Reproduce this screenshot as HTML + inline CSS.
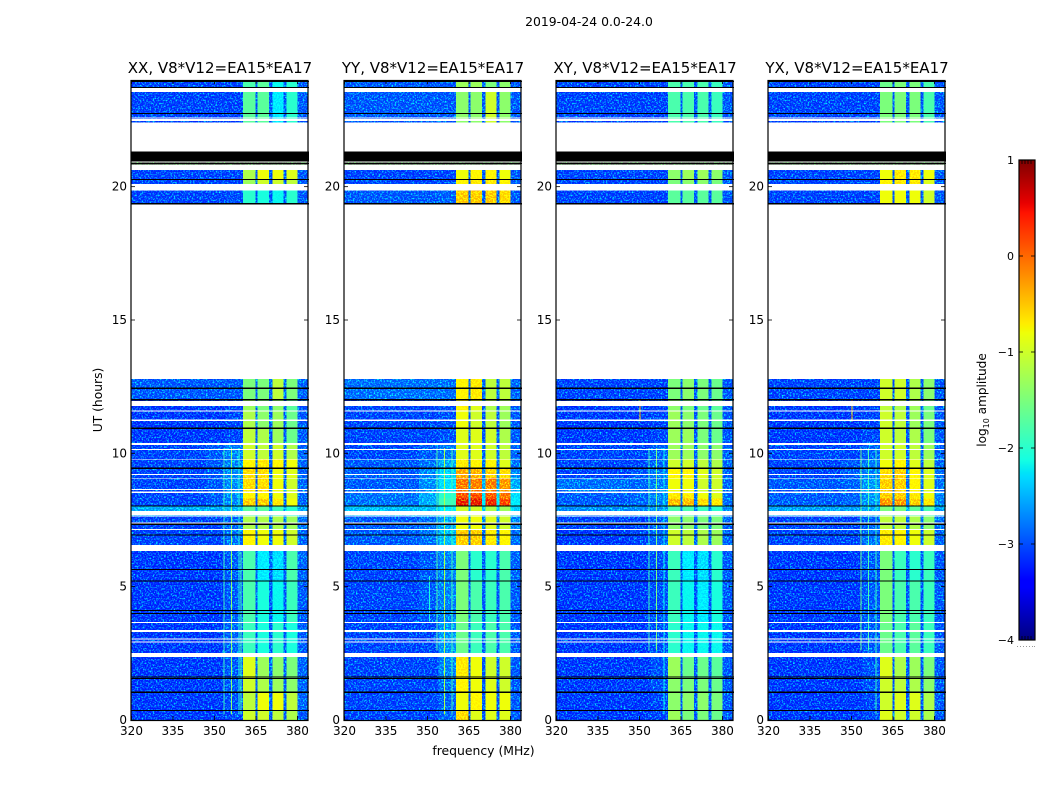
<!DOCTYPE html>
<html>
<head>
<meta charset="utf-8">
<title>2019-04-24 0.0-24.0</title>
<style>
html,body{margin:0;padding:0;background:#fff;}
svg{display:block;}
text{font-family:"DejaVu Sans","Liberation Sans",sans-serif;fill:#000;}
</style>
</head>
<body>
<svg id="fig" xmlns="http://www.w3.org/2000/svg" width="1050" height="800" viewBox="0 0 1050 800">
  <defs>
    <filter id="grain" x="0" y="0" width="100%" height="100%" color-interpolation-filters="sRGB">
      <feTurbulence type="fractalNoise" baseFrequency="0.62" numOctaves="2" seed="7" result="n"/>
      <feColorMatrix in="n" type="matrix" values="0 0 0 0 0  2.6 0 0 0 -1.22  0 0 0 0 0  0 0 0 0 1" result="g"/>
      <feComposite in="SourceGraphic" in2="g" operator="arithmetic" k1="0" k2="1" k3="1" k4="0"/>
    </filter>
  </defs>
  <text x="589" y="26" font-size="12.4" text-anchor="middle">2019-04-24 0.0-24.0</text>
  <text x="0" y="0" font-size="12.3" text-anchor="middle" transform="translate(102 400) rotate(-90)">UT (hours)</text>
  <text x="483.5" y="755" font-size="12.4" text-anchor="middle">frequency (MHz)</text>
  <text x="0" y="0" font-size="12.1" text-anchor="middle" transform="translate(986 400) rotate(-90)">log<tspan font-size="8" dy="3">10</tspan><tspan dy="-3"> amplitude</tspan></text>
  <g id="panels"></g>
  <g id="cbar"></g>
</svg>
<script>
const panelTitles = ['XX, V8*V12=EA15*EA17','YY, V8*V12=EA15*EA17','XY, V8*V12=EA15*EA17','YX, V8*V12=EA15*EA17'];
const xTickLabels = [320,335,350,365,380];
const yTickLabels = [0,5,10,15,20];
const colorbarTicks = [1,0,-1,-2,-3,-4];
const freqEdges = [320,347,354,360.4,364.8,365.6,369.8,370.9,374.9,376,380,384];
const bandColumns = [0,1,2,3,7,4,7,5,7,6,7];
const hourRows = [[0,0.36],[0.36,1.04],[1.04,1.58],[1.58,2.36],[2.36,3.66],[3.66,5.22],[5.22,6.34],[6.34,7.13],[7.13,7.63],[7.63,8.03],[8.03,8.3],[8.3,8.54],[8.54,9.05],[9.05,9.44],[9.44,9.78],[9.78,10.31],[10.31,10.94],[10.94,11.6],[11.6,12.01],[12.01,12.79],[19.3,20.0],[20.0,20.27],[20.27,20.7],[22.3,23.6],[23.6,24]];
const valuesXX = [
[-3.25,-3.25,-3.2,-1.0,-1.0,-1.1,-1.2,-3.1],
[-3.25,-3.25,-3.15,-1.1,-0.8,-0.8,-1.1,-3.05],
[-3.25,-3.25,-3.1,-1.0,-1.2,-1.3,-1.4,-3.05],
[-3.25,-3.25,-3.1,-0.9,-1.3,-1.4,-1.5,-3.05],
[-3.25,-3.25,-3.05,-1.9,-2.1,-2.0,-2.1,-3.1],
[-3.25,-3.25,-3.1,-1.8,-2.1,-2.2,-1.9,-3.1],
[-3.25,-3.25,-3.1,-1.8,-2.3,-2.4,-1.8,-3.05],
[-3.2,-3.2,-3.0,-0.7,-0.8,-0.8,-1.0,-3.05],
[-3.2,-3.2,-3.05,-1.2,-1.2,-1.2,-1.3,-3.0],
[-2.7,-2.7,-2.6,-1.7,-1.7,-1.9,-2.0,-2.75],
[-3.2,-3.1,-2.9,-0.4,-0.4,-0.6,-0.8,-3.05],
[-3.2,-3.1,-2.85,-0.7,-0.7,-0.8,-0.9,-3.05],
[-3.2,-3.1,-2.85,-0.5,-0.5,-0.8,-1.0,-3.05],
[-3.2,-3.1,-2.85,-0.5,-0.5,-0.8,-0.9,-3.05],
[-3.2,-3.1,-2.9,-0.7,-0.6,-0.7,-0.8,-3.05],
[-3.2,-3.1,-2.9,-1.0,-1.1,-1.0,-1.2,-3.05],
[-3.25,-3.25,-3.2,-1.1,-1.2,-1.3,-1.6,-3.1],
[-3.25,-3.25,-3.2,-1.2,-1.4,-1.3,-1.6,-3.1],
[-3.25,-3.25,-3.2,-1.3,-1.5,-1.4,-1.7,-3.1],
[-3.1,-3.1,-3.1,-1.5,-1.5,-1.1,-1.5,-3.05],
[-3.2,-3.2,-3.15,-2.0,-2.1,-2.2,-2.0,-3.1],
[-3.2,-3.2,-3.2,-1.3,-1.0,-1.0,-1.1,-3.1],
[-3.2,-3.2,-3.2,-1.2,-0.8,-0.8,-0.9,-3.1],
[-3.2,-3.2,-3.2,-1.7,-1.7,-2.3,-2.0,-3.1],
[-3.2,-3.2,-3.2,-1.8,-1.7,-2.2,-2.0,-3.1]];
const valuesYY = [
[-3.2,-3.2,-3.05,-0.5,-0.9,-0.9,-0.9,-3.1],
[-3.2,-3.2,-3.05,-0.8,-0.7,-0.8,-0.8,-3.1],
[-3.2,-3.2,-3.0,-0.7,-0.8,-0.9,-1.0,-3.1],
[-3.2,-3.2,-2.9,-0.6,-0.8,-1.0,-1.0,-3.1],
[-3.2,-3.2,-2.8,-1.6,-1.9,-1.8,-1.8,-3.1],
[-3.2,-3.1,-2.9,-1.5,-1.8,-1.9,-1.8,-3.1],
[-3.2,-3.1,-2.9,-1.5,-2.0,-2.0,-1.8,-3.05],
[-3.1,-3.0,-2.6,-0.4,-0.4,-0.6,-0.7,-3.0],
[-3.1,-3.0,-2.7,-0.8,-0.8,-0.9,-1.0,-2.9],
[-2.6,-2.6,-2.3,-1.0,-1.0,-1.2,-1.3,-2.5],
[-3.0,-2.7,-1.9,0.55,0.55,0.5,0.35,-2.3],
[-3.0,-2.7,-2.0,0.3,0.3,0.25,0.1,-2.4],
[-3.1,-2.85,-2.4,0.1,0.05,0.05,-0.1,-2.7],
[-3.1,-2.9,-2.5,-0.2,-0.25,-0.4,-0.5,-2.85],
[-3.1,-3.0,-2.7,-0.6,-0.7,-0.7,-0.9,-3.0],
[-3.2,-3.1,-2.95,-0.9,-0.9,-1.0,-1.1,-3.05],
[-3.2,-3.2,-3.15,-0.9,-0.9,-1.0,-1.2,-3.1],
[-3.2,-3.2,-3.15,-0.8,-1.0,-1.1,-1.3,-3.1],
[-3.2,-3.2,-3.15,-0.7,-0.9,-1.2,-1.3,-3.1],
[-3.0,-3.0,-3.0,-0.7,-0.6,-1.1,-1.1,-3.05],
[-3.1,-3.1,-3.05,-0.4,-0.4,-0.4,-0.5,-3.1],
[-3.2,-3.2,-3.2,-0.7,-0.6,-0.6,-0.7,-3.1],
[-3.2,-3.2,-3.2,-0.8,-0.7,-0.7,-0.8,-3.1],
[-3.1,-3.1,-3.1,-1.4,-1.4,-1.0,-1.4,-3.1],
[-3.1,-3.1,-3.1,-1.3,-1.3,-1.5,-1.4,-3.1]];
const valuesXY = [
[-3.25,-3.25,-3.2,-1.3,-1.5,-1.5,-1.6,-3.1],
[-3.25,-3.25,-3.2,-1.4,-1.4,-1.4,-1.5,-3.1],
[-3.25,-3.25,-3.15,-1.4,-1.5,-1.5,-1.6,-3.1],
[-3.25,-3.25,-3.15,-1.3,-1.6,-1.6,-1.7,-3.1],
[-3.25,-3.25,-3.15,-2.0,-2.2,-2.2,-2.2,-3.1],
[-3.25,-3.25,-3.15,-1.9,-2.2,-2.3,-2.1,-3.1],
[-3.25,-3.25,-3.15,-1.9,-2.3,-2.4,-2.0,-3.1],
[-3.25,-3.2,-3.05,-1.0,-1.1,-1.2,-1.3,-3.05],
[-3.2,-3.2,-3.05,-1.4,-1.4,-1.5,-1.5,-3.05],
[-2.85,-2.85,-2.8,-1.8,-1.8,-1.9,-2.0,-2.85],
[-3.1,-3.05,-2.9,-0.3,-0.3,-0.5,-0.6,-3.0],
[-3.1,-3.05,-2.9,-0.6,-0.6,-0.8,-0.9,-3.0],
[-3.0,-3.05,-2.95,-0.8,-0.8,-1.0,-1.0,-3.05],
[-3.2,-3.1,-2.95,-0.7,-0.7,-0.9,-1.0,-3.05],
[-3.2,-3.2,-3.05,-1.0,-1.0,-1.1,-1.2,-3.05],
[-3.2,-3.2,-3.05,-1.3,-1.3,-1.4,-1.4,-3.05],
[-3.25,-3.25,-3.2,-1.3,-1.3,-1.5,-1.6,-3.1],
[-3.25,-3.25,-3.2,-1.3,-1.4,-1.5,-1.6,-3.1],
[-3.25,-3.25,-3.2,-1.4,-1.5,-1.6,-1.7,-3.1],
[-3.2,-3.2,-3.2,-1.5,-1.4,-1.5,-1.6,-3.1],
[-3.2,-3.2,-3.2,-1.7,-1.7,-1.7,-1.7,-3.1],
[-3.2,-3.2,-3.2,-1.5,-1.4,-1.4,-1.5,-3.1],
[-3.2,-3.2,-3.2,-1.4,-1.3,-1.3,-1.4,-3.1],
[-3.2,-3.2,-3.2,-1.8,-1.8,-1.8,-1.9,-3.1],
[-3.2,-3.2,-3.2,-1.8,-1.8,-1.8,-1.9,-3.1]];
const valuesYX = [
[-3.25,-3.25,-3.2,-0.9,-1.0,-1.0,-1.2,-3.1],
[-3.25,-3.25,-3.2,-1.0,-0.9,-0.9,-1.2,-3.1],
[-3.25,-3.25,-3.15,-1.0,-1.1,-1.2,-1.4,-3.1],
[-3.25,-3.25,-3.15,-0.9,-1.2,-1.3,-1.5,-3.1],
[-3.25,-3.25,-3.1,-1.6,-1.8,-1.7,-1.9,-3.1],
[-3.25,-3.25,-3.1,-1.5,-1.8,-1.8,-1.9,-3.1],
[-3.25,-3.25,-3.1,-1.5,-1.9,-2.0,-1.9,-3.1],
[-3.2,-3.2,-3.0,-0.6,-0.7,-0.8,-1.0,-3.05],
[-3.2,-3.2,-3.05,-1.1,-1.1,-1.2,-1.4,-3.0],
[-2.75,-2.75,-2.7,-1.5,-1.5,-1.7,-1.8,-2.75],
[-3.1,-3.05,-2.8,-0.1,-0.1,-0.4,-0.6,-2.9],
[-3.1,-3.05,-2.8,-0.4,-0.4,-0.6,-0.8,-2.9],
[-3.1,-3.05,-2.8,-0.4,-0.4,-0.7,-0.9,-3.0],
[-3.2,-3.1,-2.9,-0.5,-0.4,-0.7,-0.9,-3.0],
[-3.2,-3.1,-2.95,-0.8,-0.7,-0.9,-1.1,-3.05],
[-3.2,-3.2,-3.05,-1.0,-1.0,-1.1,-1.3,-3.05],
[-3.25,-3.25,-3.2,-1.0,-1.1,-1.2,-1.5,-3.1],
[-3.25,-3.25,-3.2,-1.0,-1.1,-1.3,-1.5,-3.1],
[-3.25,-3.25,-3.2,-1.1,-1.2,-1.3,-1.6,-3.1],
[-3.2,-3.2,-3.2,-1.0,-1.0,-1.2,-1.4,-3.1],
[-3.2,-3.2,-3.2,-0.8,-0.8,-0.8,-1.0,-3.1],
[-3.2,-3.2,-3.2,-0.7,-0.6,-0.6,-0.9,-3.1],
[-3.2,-3.2,-3.2,-0.8,-0.6,-0.6,-0.8,-3.1],
[-3.2,-3.2,-3.2,-1.5,-1.5,-1.5,-1.8,-3.1],
[-3.2,-3.2,-3.2,-1.6,-1.5,-1.5,-1.8,-3.1]];
const panelValues = [valuesXX,valuesYY,valuesXY,valuesYX];
const interferenceLines = [
[[353.3,0.2,10.2,-1.9],[355.9,0.2,10.2,-1.4],[358.6,0.2,10.2,-2.0],[359.5,0.2,6.3,-1.8]],
[[353.3,2.6,10.2,-1.8],[355.9,0.2,10.2,-1.2],[358.6,0.2,10.2,-1.8],[350.5,3.7,5.4,-2.1]],
[[353.3,2.6,10.2,-1.9],[355.9,2.6,10.2,-1.5],[358.6,0.2,10.2,-2.2],[350,11.2,12.0,-0.3]],
[[353.3,2.6,10.2,-1.6],[355.9,2.6,10.2,-1.8],[358.6,0.2,10.2,-1.9],[350,11.2,12.0,-0.3]]
];
const flaggedHours = [[2.36,2.51],[2.91,2.95],[3.01,3.05],[3.30,3.375],[3.645,3.68],[6.34,6.56],[7.13,7.17],[7.37,7.41],[7.63,7.66],[7.69,7.84],[8.52,8.56],[8.62,8.66],[9.05,9.08],[9.18,9.22],[9.76,9.79],[10.13,10.17],[10.31,10.39],[11.22,11.26],[11.57,11.61],[11.77,11.97],[12.79,19.39],[19.85,20.1],[20.62,20.83],[20.9,20.94],[21.31,22.4],[22.47,22.53],[22.55,22.6],[23.55,23.7]];
const blankHours = [[0.34,0.38],[1.02,1.06],[1.54,1.58],[1.59,1.63],[3.98,4.02],[4.09,4.13],[5.2,5.24],[5.63,5.67],[6.91,6.95],[7.32,7.36],[8.01,8.05],[9.42,9.46],[10.92,10.96],[11.99,12.03],[12.42,12.46],[19.34,19.39],[20.25,20.29],[20.85,20.89],[20.94,21.31],[22.73,22.77],[23.7,23.74],[23.93,23.97]];

const NS = 'http://www.w3.org/2000/svg';
const panelLefts = [131,344,556,768];
const panelWidth = 177, plotTop = 80, plotBottom = 720;

function seg(stops,t){
  if(t<=stops[0][0])return stops[0][1];
  for(let i=1;i<stops.length;i++){
    if(t<=stops[i][0]){
      const a=stops[i-1],b=stops[i];
      return a[1]+(b[1]-a[1])*(t-a[0])/(b[0]-a[0]);
    }
  }
  return stops[stops.length-1][1];
}
function jet(v){
  const t=Math.max(0,Math.min(1,(v+4)/5));
  const r=seg([[0.35,0],[0.66,1],[0.89,1],[1,0.5]],t);
  const g=seg([[0.125,0],[0.375,1],[0.64,1],[0.91,0]],t);
  const b=seg([[0,0.5],[0.11,1],[0.34,1],[0.65,0]],t);
  return 'rgb('+Math.round(r*255)+','+Math.round(g*255)+','+Math.round(b*255)+')';
}
function yScale(h){return plotBottom-(h/24)*(plotBottom-plotTop);}
function xScale(left,f){return left+0.5+(f-320)/64*panelWidth;}
function mk(tag,parent,attrs){
  const el=document.createElementNS(NS,tag);
  for(const k in attrs)el.setAttribute(k,attrs[k]);
  parent.appendChild(el);
  return el;
}
const panelsRoot=document.getElementById('panels');
panelTitles.forEach(function(title,p){
  const left=panelLefts[p];
  const g=mk('g',panelsRoot,{});
  
  
  const heat=mk('g',g,{filter:'url(#grain)','shape-rendering':'crispEdges'});
  
  
  hourRows.forEach(function(row,r){
    bandColumns.forEach(function(col,b){
      const x0=xScale(left,freqEdges[b]),x1=xScale(left,freqEdges[b+1]);
      const y0=yScale(row[1]),y1=yScale(row[0]);
      const cell=mk('rect',heat,{x:x0,y:y0,width:x1-x0,height:y1-y0,fill:jet(panelValues[p][r][col])});
      
      
    });
  });
  interferenceLines[p].forEach(function(l){
    const line=mk('rect',heat,{x:xScale(left,l[0]),y:yScale(l[2]),width:1,height:yScale(l[1])-yScale(l[2]),fill:jet(l[3])});
    
    
  });
  flaggedHours.forEach(function(f){
    const band=mk('rect',g,{x:left,y:yScale(f[1]),width:panelWidth+1,height:yScale(f[0])-yScale(f[1]),fill:'#fff','shape-rendering':'crispEdges'});
    
    
  });
  blankHours.forEach(function(f){
    const band=mk('rect',g,{x:left,y:yScale(f[1]),width:panelWidth+1,height:yScale(f[0])-yScale(f[1]),fill:'#000','shape-rendering':'crispEdges'});
    
    
  });
  const frame=mk('rect',g,{x:left,y:plotTop+0.5,width:panelWidth,height:plotBottom-plotTop,fill:'none',stroke:'#000','stroke-width':1.2});
  
  
  xTickLabels.forEach(function(v){
    const x=xScale(left,v);
    const t1=mk('line',g,{x1:x,x2:x,y1:plotBottom,y2:plotBottom-4,stroke:'#000','stroke-width':0.8});
    
    
    const t2=mk('line',g,{x1:x,x2:x,y1:plotTop,y2:plotTop+4,stroke:'#000','stroke-width':0.8});
    
    
    const lab=mk('text',g,{x:x,y:plotBottom+15,'font-size':12,'text-anchor':'middle'});
    
    
    lab.textContent=v;
  });
  yTickLabels.forEach(function(v){
    const y=yScale(v);
    const t1=mk('line',g,{x1:left,x2:left+4,y1:y,y2:y,stroke:'#000','stroke-width':0.8});
    
    
    const t2=mk('line',g,{x1:left+panelWidth,x2:left+panelWidth-4,y1:y,y2:y,stroke:'#000','stroke-width':0.8});
    
    
    const lab=mk('text',g,{x:left-4,y:y+4,'font-size':12,'text-anchor':'end'});
    
    
    lab.textContent=v;
  });
  const tt=mk('text',g,{x:left+panelWidth/2+0.5,y:73,'font-size':15,'text-anchor':'middle'});
  
  
  tt.textContent=title;
});

const cbar=document.getElementById('cbar');
const cbLeft=1019,cbRight=1035,cbTop=160,cbBottom=640;
function cbY(v){return cbBottom-(v+4)/5*(cbBottom-cbTop);}
for(let py=cbTop;py<cbBottom;py++){
  const v=-4+(cbBottom-py-0.5)/(cbBottom-cbTop)*5;
  const s=mk('rect',cbar,{x:cbLeft,y:py,width:cbRight-cbLeft,height:1,fill:jet(v),'shape-rendering':'crispEdges'});
  
  
}
const cbFrame=mk('rect',cbar,{x:cbLeft,y:cbTop,width:cbRight-cbLeft,height:cbBottom-cbTop,fill:'none',stroke:'#000','stroke-width':1.2});


colorbarTicks.forEach(function(v){
  const y=cbY(v);
  const a=mk('line',cbar,{x1:cbLeft,x2:cbLeft+4,y1:y,y2:y,stroke:'#000','stroke-width':0.8});
  
  
  const b=mk('line',cbar,{x1:cbRight,x2:cbRight-4,y1:y,y2:y,stroke:'#000','stroke-width':0.8});
  
  
  const lab=mk('text',cbar,{x:1014,y:y+4,'font-size':11,'text-anchor':'end'});
  
  
  lab.textContent=(v<0?'\u2212'+(-v):String(v));
});
[1022,1025,1028,1031].forEach(function(x){
  const a=mk('line',cbar,{x1:x,x2:x,y1:cbTop,y2:cbTop+4,stroke:'#000','stroke-width':0.8});
  
  
  const b=mk('line',cbar,{x1:x,x2:x,y1:cbBottom,y2:cbBottom-4,stroke:'#000','stroke-width':0.8});
  
  
});
[1017,1020,1023,1026,1029,1032,1034].forEach(function(x){
  const d=mk('rect',cbar,{x:x,y:646,width:1,height:1,fill:'#999'});
  
  
});
</script>
</body>
</html>
